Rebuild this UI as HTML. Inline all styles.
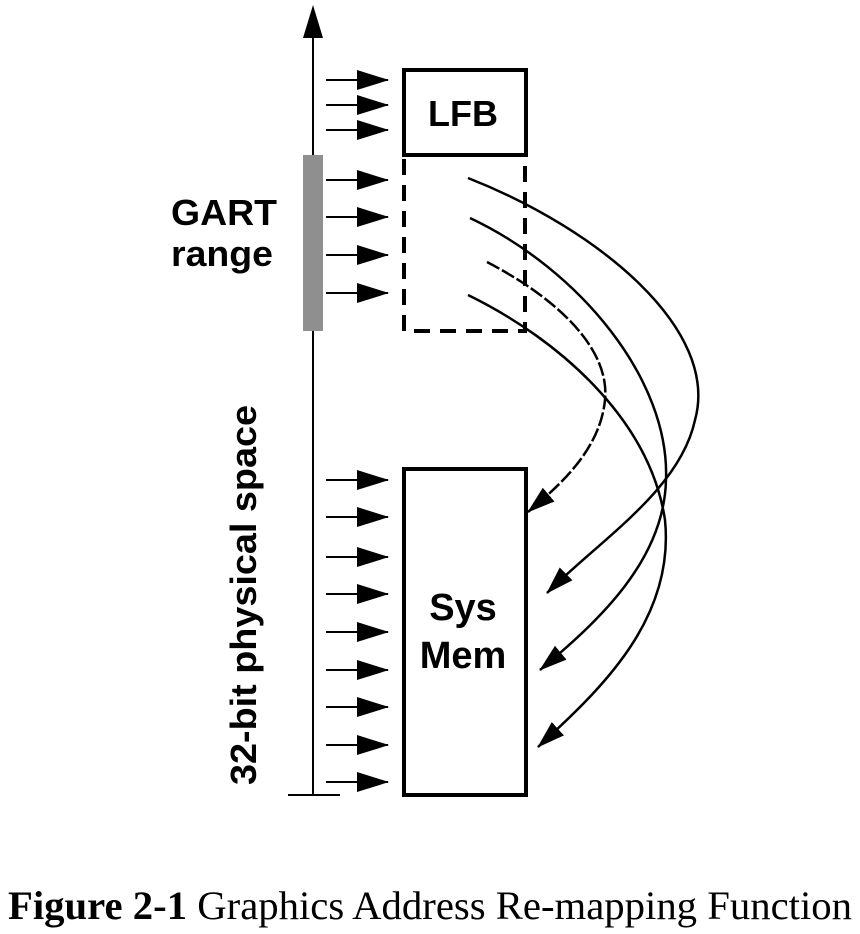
<!DOCTYPE html>
<html><head><style>body{margin:0;background:#fff}svg{display:block}</style></head><body>
<svg width="860" height="934" viewBox="0 0 860 934" xmlns="http://www.w3.org/2000/svg">
<defs>
<marker id="a" markerWidth="32" markerHeight="20" refX="31" refY="10" orient="auto" markerUnits="userSpaceOnUse">
<path d="M0,0 L32,10 L0,20 Z" fill="#000"/></marker>
<marker id="b" markerWidth="28" markerHeight="18" refX="27" refY="9" orient="auto" markerUnits="userSpaceOnUse">
<path d="M0,0 L28,9 L0,18 Z" fill="#000"/></marker>
</defs>
<line x1="313" y1="795" x2="313" y2="36" stroke="#000" stroke-width="2"/>
<path d="M313,5 L303,38 L323,38 Z" fill="#000"/>
<line x1="288" y1="795" x2="340" y2="795" stroke="#000" stroke-width="2"/>
<rect x="303" y="155" width="20" height="176" fill="#8f8f8f"/>
<g stroke="#000" stroke-width="2" marker-end="url(#a)">
<line x1="326" y1="80" x2="388" y2="80"/>
<line x1="326" y1="105" x2="388" y2="105"/>
<line x1="326" y1="130" x2="388" y2="130"/>
<line x1="326" y1="180" x2="388" y2="180"/>
<line x1="326" y1="217" x2="388" y2="217"/>
<line x1="326" y1="255" x2="388" y2="255"/>
<line x1="326" y1="293" x2="388" y2="293"/>
<line x1="326" y1="480" x2="388" y2="480"/>
<line x1="326" y1="517" x2="388" y2="517"/>
<line x1="326" y1="557" x2="388" y2="557"/>
<line x1="326" y1="594" x2="388" y2="594"/>
<line x1="326" y1="632" x2="388" y2="632"/>
<line x1="326" y1="670" x2="388" y2="670"/>
<line x1="326" y1="707" x2="388" y2="707"/>
<line x1="326" y1="745" x2="388" y2="745"/>
<line x1="326" y1="782" x2="388" y2="782"/>
</g>
<rect x="404" y="70" width="122" height="85" fill="none" stroke="#000" stroke-width="4"/>
<path d="M404,159 L404,331 L525,331 L525,159" fill="none" stroke="#000" stroke-width="4" stroke-dasharray="16,10"/>
<rect x="404" y="469" width="122" height="326" fill="none" stroke="#000" stroke-width="4"/>
<g fill="none" stroke="#000" stroke-width="2.5" marker-end="url(#b)">
<path d="M468,178 C600,230 720,330 695,420 C680,490 600,540 547,593"/>
<path d="M470,218 C580,270 670,380 666,480 C664,560 600,620 540,670"/>
<path d="M487,262 C560,300 610,350 605,400 C600,450 560,485 528,512" stroke-dasharray="14,3"/>
<path d="M468,295 C560,340 650,420 665,520 C675,620 600,690 538,747"/>
</g>
<g font-family="Liberation Sans, Arial, sans-serif" font-weight="bold" font-size="36" fill="#000">
<text x="463" y="126" text-anchor="middle">LFB</text>
<text x="463" y="620" text-anchor="middle" font-size="38">Sys</text>
<text x="463" y="668" text-anchor="middle" font-size="38">Mem</text>
<text x="171" y="225" textLength="106" lengthAdjust="spacingAndGlyphs">GART</text>
<text x="171" y="266" textLength="102" lengthAdjust="spacingAndGlyphs">range</text>
<text transform="translate(256,785) rotate(-90)" x="0" y="0" textLength="380" lengthAdjust="spacingAndGlyphs">32-bit physical space</text>
</g>
<text x="8" y="919" font-family="Liberation Serif, Times New Roman, serif" font-size="40" fill="#000" textLength="844" lengthAdjust="spacingAndGlyphs"><tspan font-weight="bold">Figure 2-1</tspan> Graphics Address Re-mapping Function</text>
</svg>
</body></html>
